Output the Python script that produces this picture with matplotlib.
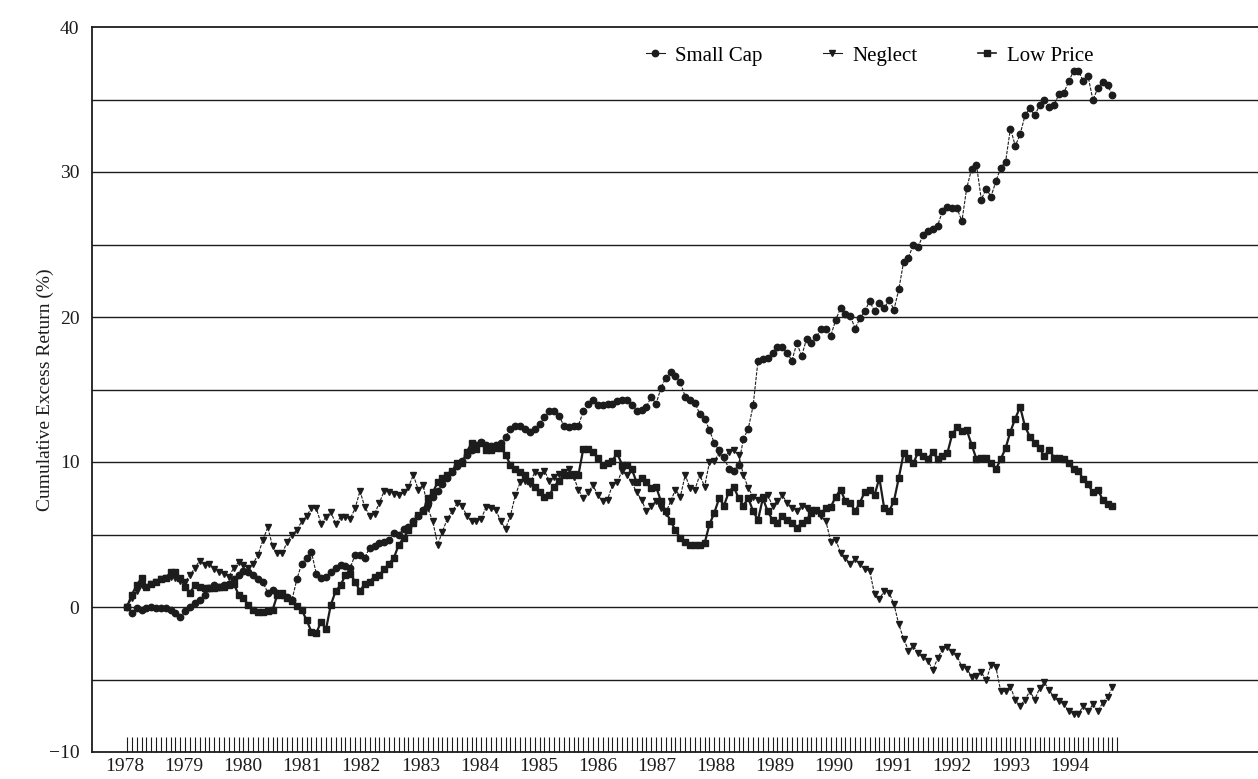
import numpy as np
import matplotlib
matplotlib.use("Agg")
import matplotlib.pyplot as plt
from matplotlib.lines import Line2D

plt.rcParams['font.family'] = ['Liberation Serif', 'DejaVu Serif']

# monthly cumulative excess returns (%), Jan 1978 - Dec 1994
small_cap = [
    0.0, -0.4, -0.1, -0.2, -0.1, 0.0, -0.1, -0.1, -0.1, -0.2, -0.4, -0.7,
    -0.3, 0.0, 0.3, 0.5, 0.85, 1.3, 1.5, 1.4, 1.5, 1.6, 1.9, 2.2,
    2.5, 2.4, 2.2, 1.9, 1.7, 1.0, 1.2, 1.0, 0.8, 0.7, 0.5, 1.9,
    3.0, 3.4, 3.8, 2.3, 2.0, 2.1, 2.4, 2.7, 2.9, 2.8, 2.7, 3.6,
    3.6, 3.4, 4.1, 4.2, 4.4, 4.5, 4.6, 5.1, 5.0, 5.4, 5.5, 5.9,
    6.3, 6.7, 7.2, 7.6, 8.0, 8.5, 8.9, 9.3, 9.7, 10.1, 10.5, 10.8,
    11.2, 11.4, 11.2, 11.1, 11.2, 11.3, 11.7, 12.3, 12.5, 12.5, 12.3, 12.1,
    12.3, 12.6, 13.1, 13.5, 13.5, 13.2, 12.5, 12.4, 12.5, 12.5, 13.5, 14.0,
    14.3, 13.9, 13.9, 14.0, 14.0, 14.2, 14.3, 14.3, 13.9, 13.5, 13.6, 13.8,
    14.5, 14.0, 15.1, 15.8, 16.2, 15.9, 15.5, 14.5, 14.3, 14.1, 13.3, 13.0,
    12.2, 11.3, 10.8, 10.35, 9.5, 9.4, 9.8, 11.6, 12.3, 13.9, 17.0, 17.1,
    17.2, 17.5, 17.9, 17.9, 17.5, 17.0, 18.2, 17.3, 18.5, 18.2, 18.6, 19.2,
    19.2, 18.7, 19.8, 20.6, 20.2, 20.1, 19.2, 19.9, 20.4, 21.1, 20.4, 21.0,
    20.6, 21.2, 20.5, 21.9, 23.8, 24.1, 25.0, 24.85, 25.65, 25.9, 26.1, 26.3,
    27.3, 27.6, 27.55, 27.5, 26.6, 28.9, 30.2, 30.5, 28.1, 28.85, 28.3, 29.35,
    30.3, 30.7, 33.0, 31.8, 32.6, 33.9, 34.4, 33.9, 34.6, 34.95, 34.5, 34.65,
    35.35, 35.45, 36.25, 36.95, 37.0, 36.25, 36.6, 34.95, 35.8, 36.2, 36.0, 35.3,
]

neglect = [
    0.0, 0.6, 1.1, 1.5, 1.4, 1.6, 1.7, 1.9, 2.0, 2.1, 2.0, 1.8,
    1.75, 2.2, 2.7, 3.2, 2.9, 3.0, 2.6, 2.4, 2.3, 2.1, 2.7, 3.1,
    2.9, 2.7, 3.0, 3.6, 4.6, 5.5, 4.2, 3.7, 3.7, 4.5, 5.0, 5.3,
    5.9, 6.3, 6.8, 6.8, 5.75, 6.2, 6.55, 5.75, 6.2, 6.2, 6.1, 6.8,
    8.0, 6.9, 6.3, 6.4, 7.2, 8.0, 7.9, 7.8, 7.7, 7.9, 8.3, 9.1,
    8.1, 8.4, 6.8, 5.9, 4.3, 5.2, 6.1, 6.6, 7.15, 7.0, 6.3, 5.9,
    5.9, 6.1, 6.9, 6.8, 6.7, 5.9, 5.4, 6.3, 7.7, 8.6, 8.7, 8.5,
    9.3, 9.1, 9.4, 8.7, 9.0, 9.2, 9.3, 9.5, 9.0, 8.1, 7.5, 7.9,
    8.4, 7.7, 7.3, 7.4, 8.4, 8.6, 9.4, 9.1, 8.6, 7.9, 7.4, 6.6,
    7.0, 7.3, 6.8, 6.5, 7.3, 8.1, 7.6, 9.1, 8.2, 8.1, 9.1, 8.3,
    10.0, 10.1, 10.6, 10.3, 10.7, 10.8, 10.5, 9.1, 8.2, 7.6, 7.4, 7.6,
    7.7, 7.0, 7.3, 7.7, 7.2, 6.8, 6.6, 7.0, 6.8, 6.7, 6.6, 6.25,
    5.9, 4.5, 4.65, 3.75, 3.4, 2.95, 3.3, 2.95, 2.6, 2.5, 0.9, 0.55,
    1.1, 1.0, 0.2, -1.2, -2.2, -3.0, -2.7, -3.2, -3.45, -3.7, -4.35, -3.55,
    -2.9, -2.75, -3.1, -3.35, -4.15, -4.25, -4.8, -4.75, -4.5, -5.05, -4.0, -4.15,
    -5.8, -5.8, -5.5, -6.4, -6.8, -6.4, -5.8, -6.4, -5.6, -5.2, -5.75, -6.2,
    -6.5, -6.7, -7.2, -7.4, -7.4, -6.8, -7.2, -6.7, -7.2, -6.6, -6.2, -5.55,
]

low_price = [
    0.0, 0.85, 1.5, 2.0, 1.4, 1.6, 1.75, 1.9, 2.0, 2.4, 2.4, 2.0,
    1.4, 1.0, 1.5, 1.4, 1.3, 1.3, 1.3, 1.4, 1.4, 1.5, 1.6, 0.85,
    0.6, 0.15, -0.2, -0.35, -0.35, -0.3, -0.2, 0.85, 0.95, 0.6, 0.4, 0.1,
    -0.2, -0.9, -1.7, -1.8, -1.0, -1.55, 0.15, 1.1, 1.5, 2.2, 2.3, 1.75,
    1.1, 1.6, 1.75, 2.1, 2.2, 2.6, 3.0, 3.4, 4.3, 4.75, 5.3, 5.8,
    6.35, 6.6, 7.5, 7.9, 8.6, 8.9, 9.1, 9.4, 9.9, 9.9, 10.7, 11.3,
    10.9, 11.3, 10.8, 10.8, 11.0, 11.0, 10.5, 9.8, 9.5, 9.3, 9.1, 8.7,
    8.3, 7.9, 7.6, 7.7, 8.3, 8.7, 9.1, 9.1, 9.2, 9.1, 10.9, 10.9,
    10.7, 10.3, 9.8, 9.9, 10.1, 10.6, 9.8, 9.8, 9.5, 8.6, 8.9, 8.6,
    8.2, 8.3, 7.3, 6.6, 5.9, 5.3, 4.75, 4.5, 4.3, 4.3, 4.3, 4.4,
    5.7, 6.5, 7.5, 7.0, 7.95, 8.3, 7.5, 7.0, 7.5, 6.6, 6.0, 7.5,
    6.6, 6.0, 5.8, 6.25, 6.0, 5.8, 5.45, 5.8, 6.0, 6.5, 6.7, 6.5,
    6.8, 6.9, 7.6, 8.1, 7.3, 7.2, 6.6, 7.2, 7.95, 8.1, 7.7, 8.9,
    6.8, 6.6, 7.3, 8.9, 10.6, 10.3, 9.9, 10.7, 10.4, 10.2, 10.7, 10.2,
    10.4, 10.6, 11.9, 12.4, 12.15, 12.2, 11.2, 10.2, 10.3, 10.3, 9.9, 9.5,
    10.2, 10.95, 12.1, 13.0, 13.8, 12.45, 11.75, 11.3, 10.95, 10.4, 10.85, 10.3,
    10.3, 10.2, 9.9, 9.5, 9.4, 8.8, 8.45, 7.9, 8.1, 7.4, 7.1, 7.0,
]

years = list(range(1978, 1995))
y_labels = [-10, 0, 10, 20, 30, 40]

n = len(small_cap)
t = np.arange(n)          # month index, 0 = Jan 1978
ink = '#1c1c1c'

fig = plt.figure(figsize=(12.58, 7.79), dpi=100)
ax = fig.add_axes([92 / 1258, 1 - 752 / 779, 1 - 92 / 1258, 725 / 779])

# horizontal rules every 5 points
for yv in range(-5, 40, 5):
    ax.axhline(yv, color=ink, lw=1.0, zorder=1)

ax.plot(t, small_cap, color=ink, lw=0.8, ls=(0, (3, 1.2)),
        marker='o', ms=4.6, mec=ink, mfc=ink, zorder=3)
ax.plot(t, neglect, color=ink, lw=0.8, ls=(0, (3, 1.2)),
        marker='v', ms=4.8, mec=ink, mfc=ink, zorder=3)
ax.plot(t, low_price, color=ink, lw=1.6,
        marker='s', ms=5.0, mec=ink, mfc=ink, zorder=4)

ax.set_xlim(-7.2, 233.0)
ax.set_ylim(-10, 40)

ax.set_yticks(y_labels)
ax.set_yticklabels([f'{v}' if v >= 0 else f'\u2212{-v}' for v in y_labels])
ax.tick_params(axis='y', length=0, pad=9, labelsize=14, colors=ink)

# year labels are spaced a little wider than 12 monthly ticks in the original
label_step = 12.17
ax.set_xticks([-0.4 + label_step * i for i in range(len(years))])
ax.set_xticklabels([str(y) for y in years])
ax.set_xticks(np.arange(n + 1), minor=True)
ax.tick_params(axis='x', which='major', length=0, pad=4, labelsize=14,
               colors=ink)
ax.tick_params(axis='x', which='minor', direction='in', length=11, width=0.8,
               colors=ink)

for side in ['left', 'top', 'bottom']:
    ax.spines[side].set_color(ink)
    ax.spines[side].set_linewidth(1.3)
ax.spines['right'].set_visible(False)

ax.set_ylabel('Cumulative Excess Return (%)', fontsize=14, color=ink)
ax.yaxis.set_label_coords(-0.033, 0.5)

handles = [
    Line2D([], [], color=ink, lw=0.8, marker='o', ms=4.6),
    Line2D([], [], color=ink, lw=0.8, marker='v', ms=4.8),
    Line2D([], [], color=ink, lw=1.2, marker='s', ms=5.0),
]
ax.legend(handles, ['Small Cap', 'Neglect', 'Low Price'], ncol=3,
          loc='center right', bbox_to_anchor=(0.884, 1 - 56 / 779),
          bbox_transform=fig.transFigure, frameon=False, fontsize=15,
          handlelength=0.9, handletextpad=0.5, columnspacing=2.9)

fig.savefig('out.png', dpi=100)
